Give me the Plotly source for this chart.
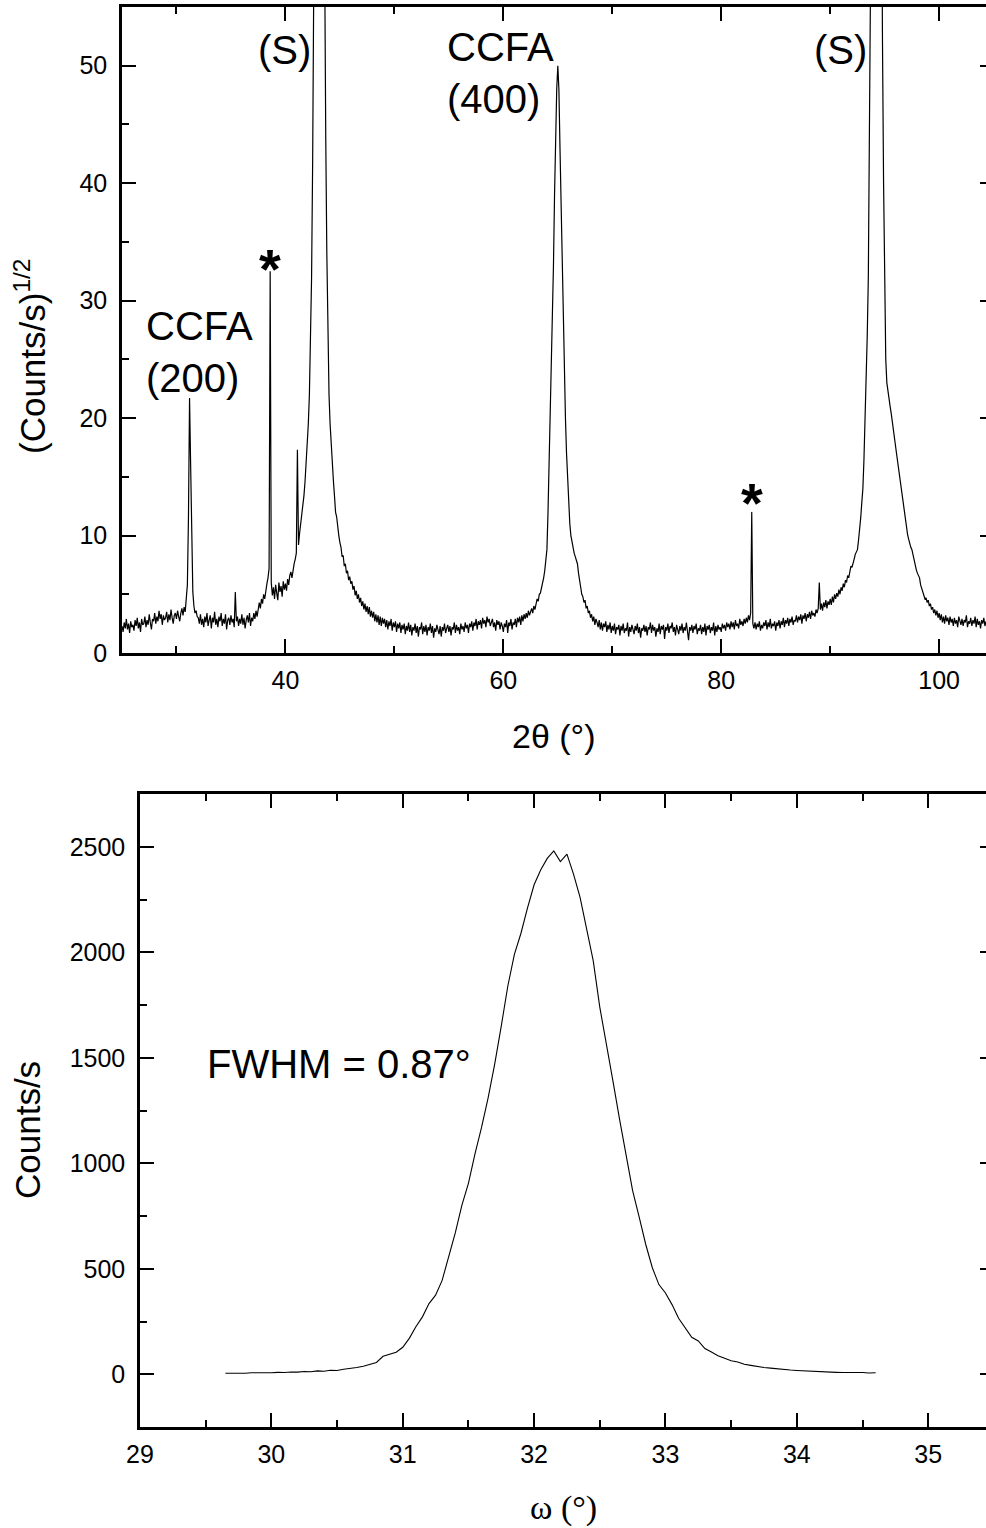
import plotly.graph_objects as go

# ---------------- Top panel: 2theta scan, sqrt(counts/s) ----------------
# scan grid: 25.0 ... 105.0 deg, step 0.1 deg (one row per degree)
theta_start, theta_step = 25.0, 0.1
sqrt_counts = [
    2.3, 1.8, 2.6, 2.1, 2.9, 2.0, 2.5, 1.7, 2.7, 2.2,          # 25
    2.4, 1.9, 2.8, 2.3, 3.0, 2.1, 2.6, 1.8, 2.9, 2.4,          # 26
    2.5, 3.1, 2.2, 2.8, 2.4, 3.3, 2.6, 2.0, 2.9, 2.7,          # 27
    3.4, 2.5, 3.1, 2.7, 3.6, 2.9, 3.3, 2.4, 3.2, 2.8,          # 28
    3.0, 3.5, 2.6, 3.3, 2.8, 3.7, 3.0, 2.5, 3.2, 3.4,          # 29
    2.9, 3.6, 3.1, 2.7, 3.4, 3.8, 3.2, 3.9, 3.5, 4.4,          # 30
    5.8, 11.5, 21.7, 16.0, 8.5, 5.2, 4.0, 3.4, 3.6, 3.1,       # 31
    3.0, 2.5, 3.3, 2.4, 2.9, 2.2, 3.1, 2.6, 3.4, 2.3,          # 32
    2.8, 3.2, 2.1, 3.0, 2.6, 3.5, 2.4, 2.9, 2.2, 3.1,          # 33
    2.7, 3.4, 2.3, 2.9, 2.5, 3.3, 2.0, 2.8, 3.0, 2.4,          # 34
    3.2, 2.6, 2.9, 2.2, 5.2, 2.7, 3.1, 2.3, 2.9, 2.5,          # 35
    3.3, 2.4, 3.0, 2.1, 2.8, 3.2, 2.6, 3.4, 2.3, 3.0,          # 36
    2.7, 3.4, 2.9, 3.6, 3.1, 3.9, 4.3, 3.8, 4.6, 4.2,          # 37
    5.0, 4.6, 5.4, 5.9, 6.4, 7.2, 32.5, 6.0, 4.9, 5.6,         # 38
    4.6, 5.8, 5.1, 4.5, 6.0, 5.2, 5.7, 4.8, 6.1, 5.4,          # 39
    5.9, 5.3, 6.3, 5.8, 6.6, 6.9, 6.4, 7.2, 7.6, 8.0,          # 40
    8.5, 17.3, 9.2, 10.2, 10.9, 11.6, 12.6, 13.4, 14.6, 16.0,  # 41
    17.5, 19.5, 22.0, 26.0, 32.0, 42.0, 58.0, 80.0, 100.0, 118.0,   # 42
    128.0, 132.0, 125.0, 108.0, 90.0, 72.0, 56.0, 44.0, 34.0, 27.0,  # 43
    22.0, 19.5, 17.6, 15.8, 14.7, 13.4, 12.0, 11.6, 10.5, 10.0,     # 44
    9.4, 9.0, 8.2, 8.3, 7.4, 7.6, 6.8, 7.0, 6.2, 6.5,          # 45
    5.9, 6.1, 5.4, 5.7, 4.9, 5.3, 4.6, 5.0, 4.3, 4.7,          # 46
    4.0, 4.4, 3.7, 4.2, 3.5, 4.0, 3.3, 3.9, 3.1, 3.6,          # 47
    3.0, 3.5, 2.7, 3.3, 2.6, 3.2, 2.4, 3.1, 2.3, 3.0,          # 48
    2.5, 2.9, 2.2, 2.8, 2.0, 2.7, 2.3, 2.9, 1.9, 2.6,          # 49
    2.2, 2.7, 1.8, 2.5, 2.1, 2.6, 1.7, 2.4, 2.0, 2.5,          # 50
    1.6, 2.3, 1.9, 2.6, 1.8, 2.4, 1.5, 2.2, 1.9, 2.5,          # 51
    1.7, 2.3, 1.4, 2.2, 2.0, 2.6, 1.6, 2.3, 1.8, 2.4,          # 52
    1.5, 2.2, 1.9, 2.5, 1.7, 2.3, 1.3, 2.1, 1.8, 2.4,          # 53
    2.0, 1.6, 2.3, 1.4, 2.2, 1.9, 2.5, 1.7, 2.1, 2.4,          # 54
    1.8, 2.3, 1.5, 2.2, 2.0, 2.6, 1.7, 2.4, 1.9, 2.2,          # 55
    1.6, 2.5, 2.0, 2.3, 1.8, 2.6, 2.1, 2.4, 1.7, 2.5,          # 56
    2.2, 2.7, 1.9, 2.6, 2.3, 2.9, 2.0, 2.7, 2.4, 2.8,          # 57
    2.1, 3.0, 2.5, 2.8, 2.2, 3.1, 2.6, 2.9, 2.3, 2.7,          # 58
    2.9, 2.2, 2.6, 1.9, 2.8, 2.4, 2.7, 2.0, 2.6, 2.3,          # 59
    1.8, 2.5, 2.2, 2.8, 1.7, 2.6, 2.3, 2.9, 2.0, 2.6,          # 60
    2.4, 2.9, 2.2, 3.0, 2.6, 3.1, 2.4, 3.2, 2.7, 3.3,          # 61
    2.9, 3.4, 3.0, 3.6, 3.2, 3.5, 3.8, 3.4, 4.0, 3.7,          # 62
    4.2, 4.6, 4.4, 5.0, 5.1, 5.5, 6.0, 6.4, 7.0, 7.8,          # 63
    8.8, 12.0, 16.0, 19.0, 24.0, 28.0, 33.0, 39.0, 44.0, 48.0, # 64
    50.0, 48.0, 43.0, 38.0, 33.0, 28.0, 24.0, 20.0, 17.0, 14.5,  # 65
    12.5, 11.0, 10.0, 9.4, 8.9, 8.5, 8.2, 7.9, 7.6, 6.8,       # 66
    6.0, 5.6, 5.0, 4.8, 4.3, 4.5, 3.8, 4.0, 3.4, 3.6,          # 67
    3.0, 3.3, 2.7, 3.1, 2.4, 2.9, 2.6, 2.2, 2.8, 2.0,          # 68
    2.6, 1.9, 2.5, 2.2, 2.7, 1.8, 2.4, 2.0, 2.6, 1.7,          # 69
    2.3, 1.9, 2.5, 1.6, 2.2, 2.0, 2.4, 1.5, 2.3, 1.9,          # 70
    2.5, 1.7, 2.1, 1.9, 2.6, 1.4, 2.2, 1.8, 2.4, 2.0,          # 71
    1.6, 2.3, 1.9, 2.5, 1.7, 2.2, 1.3, 2.1, 1.9, 2.4,          # 72
    1.8, 2.3, 1.5, 2.2, 2.0, 2.6, 1.7, 2.4, 1.9, 2.2,          # 73
    1.4, 2.1, 1.8, 2.5, 1.6, 2.3, 2.0, 2.4, 1.2, 2.2,          # 74
    1.9, 2.5, 1.7, 2.3, 2.1, 2.6, 1.8, 2.2, 1.5, 2.4,          # 75
    2.0, 1.6, 2.3, 1.9, 2.5, 1.7, 2.2, 1.9, 2.6, 1.8,          # 76
    1.1, 2.2, 1.9, 2.4, 1.7, 2.3, 2.0, 2.5, 1.6, 2.1,          # 77
    1.9, 2.4, 1.6, 2.2, 1.8, 2.5, 1.5, 2.3, 2.0, 2.4,          # 78
    1.7, 2.2, 1.9, 2.6, 1.5, 2.3, 1.8, 2.4, 2.0, 2.2,          # 79
    1.8, 2.5, 2.1, 2.4, 1.9, 2.6, 2.2, 2.5, 2.0, 2.7,          # 80
    2.2, 2.6, 2.0, 2.8, 2.3, 2.5, 2.1, 2.9, 2.4, 2.7,          # 81
    2.3, 2.9, 2.5, 3.0, 2.6, 3.2, 2.8, 3.4, 12.0, 2.5,         # 82
    2.1, 2.6, 2.0, 2.5, 2.2, 2.7, 1.9, 2.4, 2.1, 2.6,          # 83
    2.3, 2.8, 2.0, 2.6, 2.2, 2.9, 2.1, 2.5, 2.3, 2.7,          # 84
    1.9, 2.6, 2.3, 2.8, 2.1, 2.7, 2.4, 3.0, 2.2, 2.8,          # 85
    2.5, 3.0, 2.3, 2.9, 2.6, 3.1, 2.4, 2.8, 2.7, 3.2,          # 86
    2.6, 3.1, 2.8, 3.3, 2.5, 3.2, 2.9, 3.4, 2.7, 3.3,          # 87
    3.0, 3.5, 2.9, 3.6, 3.2, 3.4, 3.1, 3.7, 3.4, 3.8,          # 88
    6.0, 3.7, 4.2, 3.6, 4.3, 3.9, 4.5, 3.8, 4.4, 4.1,          # 89
    4.6, 4.1, 4.8, 4.3, 5.0, 4.6, 5.1, 4.8, 5.4, 5.0,          # 90
    5.6, 5.3, 5.9, 5.6, 6.2, 6.0, 6.6, 6.4, 7.0, 7.4,          # 91
    7.3, 7.8, 8.0, 8.4, 8.6, 8.8, 9.6, 10.4, 11.5, 12.8,       # 92
    14.0, 16.5, 19.5, 23.0, 27.0, 32.0, 39.0, 47.0, 56.0, 70.0,  # 93
    88.0, 108.0, 125.0, 132.0, 125.0, 105.0, 85.0, 65.0, 52.0, 40.0,  # 94
    30.0, 25.0, 23.0, 22.2, 21.6, 21.0, 20.4, 19.8, 19.2, 18.4,  # 95
    17.6, 16.9, 16.2, 15.6, 14.8, 14.1, 13.4, 12.7, 12.0, 11.2,  # 96
    10.6, 10.1, 9.7, 9.3, 9.0, 8.8, 8.3, 7.8, 7.6, 7.1,        # 97
    6.8, 6.6, 6.4, 5.8, 5.5, 5.0, 4.9, 4.6, 4.7, 4.3,          # 98
    4.5, 4.0, 4.2, 3.7, 3.9, 3.4, 3.7, 3.2, 3.6, 3.0,          # 99
    3.4, 2.8, 3.3, 2.6, 3.1, 2.5, 3.2, 2.7, 3.0, 2.4,          # 100
    3.1, 2.6, 2.9, 2.3, 3.0, 2.5, 2.8, 2.2, 3.1, 2.6,          # 101
    2.4, 2.9, 2.3, 2.8, 2.6, 3.2, 2.2, 2.7, 2.5, 3.0,          # 102
    2.3, 2.8, 2.5, 3.1, 2.2, 2.9, 2.4, 2.7, 2.1, 2.8,          # 103
    2.5, 3.0, 2.3, 2.7, 2.4, 2.9, 2.6, 2.8, 2.2, 2.7,          # 104
    2.6,                                                         # 105
]
two_theta = [round(theta_start + theta_step * i, 2) for i in range(len(sqrt_counts))]

# ---------------- Bottom panel: omega rocking curve ----------------
omega_start, omega_step = 29.65, 0.05
counts = [
    5, 4, 6, 5, 7, 6, 8, 7, 9, 8,
    11, 10, 13, 12, 16, 14, 19, 18, 24, 27,
    32, 38, 48, 56, 85, 95, 104, 128, 170, 225,
    272, 335, 375, 445, 560, 670, 800, 905, 1045, 1170,
    1310, 1470, 1650, 1840, 1990, 2090, 2210, 2320, 2390, 2445,
    2480, 2430, 2465, 2370, 2260, 2110, 1960, 1740, 1570, 1390,
    1210, 1030, 870, 745, 615, 505, 425, 385, 330, 265,
    220, 175, 158, 122, 105, 88, 76, 64, 58, 47,
    42, 36, 32, 29, 25, 23, 20, 18, 16, 14,
    13, 11, 10, 9, 8, 9, 7, 8, 6, 7,
]
omega = [round(omega_start + omega_step * i, 2) for i in range(len(counts))]

top_xrange = [25, 104.3]
top_yrange = [0, 55]
bot_xrange = [29, 35.44]
bot_yrange = [-250, 2750]

W, H = 986, 1528
FONT = "Liberation Sans, Arial, sans-serif"

fig = go.Figure()
fig.add_trace(go.Scatter(x=two_theta, y=sqrt_counts, mode="lines",
                         line=dict(color="black", width=1.2), xaxis="x", yaxis="y",
                         showlegend=False, hoverinfo="skip"))
fig.add_trace(go.Scatter(x=omega, y=counts, mode="lines",
                         line=dict(color="black", width=1.1), xaxis="x2", yaxis="y2",
                         showlegend=False, hoverinfo="skip"))
# empty traces so that the right-hand tick axes are drawn
fig.add_trace(go.Scatter(x=[], y=[], xaxis="x", yaxis="y3", showlegend=False))
fig.add_trace(go.Scatter(x=[], y=[], xaxis="x2", yaxis="y4", showlegend=False))

MINOR = dict(ticks="inside", ticklen=7, tickwidth=2, tickcolor="black", showgrid=False)


def axis(**kw):
    d = dict(showline=True, linecolor="black", linewidth=2.5, automargin=False,
             ticks="inside", ticklen=14, tickwidth=2, tickcolor="black",
             showgrid=False, zeroline=False,
             tickfont=dict(family=FONT, size=25, color="black"),
             minor=MINOR)
    d.update(kw)
    return d


def right_ticks(**kw):
    d = dict(side="right", showline=False, ticks="inside", ticklen=6, tickwidth=2,
             tickcolor="black", showticklabels=False, showgrid=False, zeroline=False,
             automargin=False)
    d.update(kw)
    return d


fig.update_layout(
    width=W, height=H,
    margin=dict(l=0, r=0, t=0, b=0, autoexpand=False),
    paper_bgcolor="white", plot_bgcolor="white",
    font=dict(family=FONT, color="black"),
    xaxis=axis(domain=[122 / W, 1], range=top_xrange, anchor="y", mirror="ticks",
               tick0=0, dtick=20, minor_dtick=10, ticklabelstandoff=3),
    yaxis=axis(domain=[1 - 653 / H, 1 - 7 / H], range=top_yrange, anchor="x", mirror=False,
               tick0=0, dtick=10, minor_dtick=5, ticklabelstandoff=7),
    yaxis3=right_ticks(overlaying="y", anchor="x", range=top_yrange, tick0=0, dtick=10),
    xaxis2=axis(domain=[140 / W, 1], range=bot_xrange, anchor="y2", mirror="ticks",
                tick0=0, dtick=1, minor_dtick=0.5, ticklabelstandoff=3),
    yaxis2=axis(domain=[1 - 1427 / H, 1 - 794 / H], range=bot_yrange, anchor="x2", mirror=False,
                tick0=0, dtick=500, minor_dtick=250, ticklabelstandoff=7),
    yaxis4=right_ticks(overlaying="y2", anchor="x2", range=bot_yrange, tick0=0, dtick=500),
)

ann_font = dict(family=FONT, size=40, color="black")
star_font = dict(family=FONT, size=56, color="black")
annotations = [
    dict(x=27.0, y=25.6, xref="x", yref="y", text="CCFA<br>(200)", xanchor="left",
         yanchor="middle", align="left", showarrow=False, font=ann_font),
    dict(x=54.6, y=49.4, xref="x", yref="y", text="CCFA<br>(400)", xanchor="left",
         yanchor="middle", align="left", showarrow=False, font=ann_font),
    dict(x=42.5, y=51.3, xref="x", yref="y", text="(S)", xanchor="right",
         yanchor="middle", showarrow=False, font=ann_font),
    dict(x=93.6, y=51.3, xref="x", yref="y", text="(S)", xanchor="right",
         yanchor="middle", showarrow=False, font=ann_font),
    dict(x=38.6, y=32.7, xref="x", yref="y", text="<b>*</b>", xanchor="center",
         yanchor="middle", showarrow=False, font=star_font),
    dict(x=82.8, y=12.8, xref="x", yref="y", text="<b>*</b>", xanchor="center",
         yanchor="middle", showarrow=False, font=star_font),
    dict(x=29.495, y=1469, xref="x2", yref="y2", text="FWHM = 0.87°", xanchor="left",
         yanchor="middle", showarrow=False, font=ann_font),
    # axis titles
    dict(x=554 / W, y=1 - 736 / H, xref="paper", yref="paper", text="2θ (°)",
         xanchor="center", yanchor="middle", showarrow=False,
         font=dict(family=FONT, size=34, color="black")),
    dict(x=563 / W, y=1 - 1508 / H, xref="paper", yref="paper", text="ω (°)",
         xanchor="center", yanchor="middle", showarrow=False,
         font=dict(family="Liberation Serif, Times New Roman, serif", size=34, color="black")),
    dict(x=30 / W, y=1 - 356 / H, xref="paper", yref="paper",
         text="(Counts/s)<sup>1/2</sup>", textangle=-90,
         xanchor="center", yanchor="middle", showarrow=False,
         font=dict(family=FONT, size=35, color="black")),
    dict(x=27 / W, y=1 - 1130 / H, xref="paper", yref="paper", text="Counts/s",
         textangle=-90, xanchor="center", yanchor="middle", showarrow=False,
         font=dict(family=FONT, size=35, color="black")),
]
fig.update_layout(annotations=annotations)

fig.write_html("out.html",
               post_script="document.body.style.margin='0';document.body.style.overflow='hidden';")
